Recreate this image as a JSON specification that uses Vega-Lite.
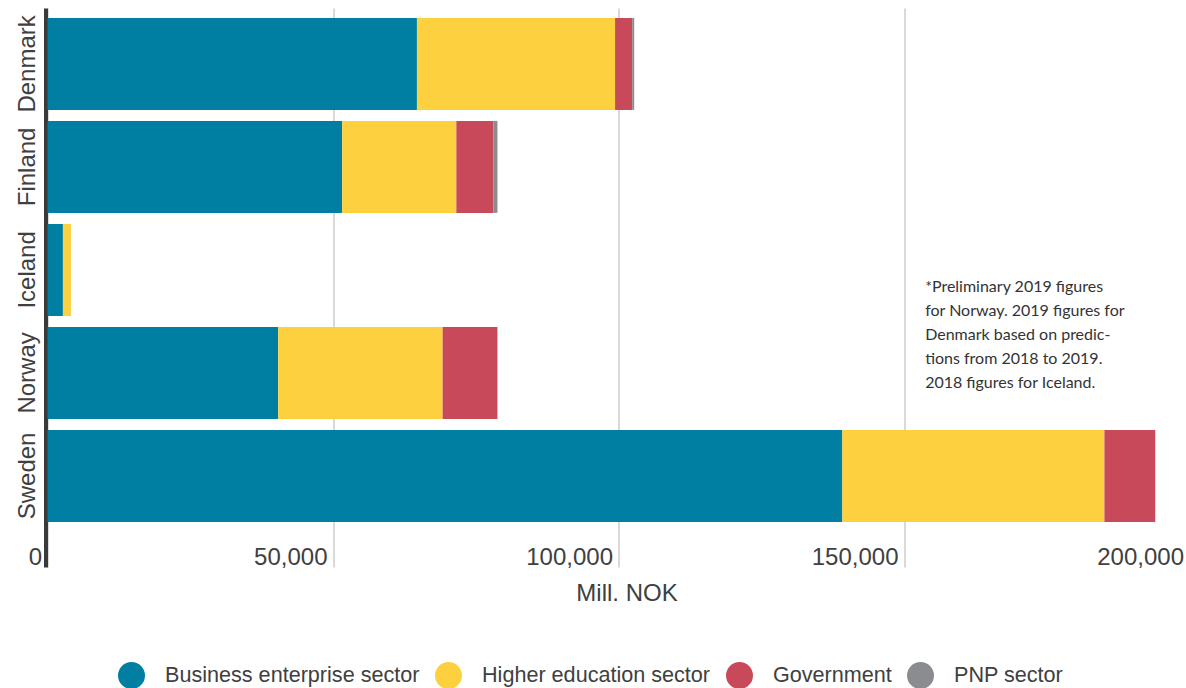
{
  "$schema": "https://vega.github.io/schema/vega-lite/v6.json",
  "autosize": "none",
  "padding": {"left": 47.5, "top": 8, "right": 0, "bottom": 121},
  "width": 1142,
  "height": 559,
  "config": {
    "view": {"stroke": null},
    "font": "Liberation Sans",
    "axis": {"labelFont": "Liberation Sans", "titleFont": "Liberation Sans"},
    "legend": {"labelFont": "Liberation Sans"}
  },
  "datasets": {
    "rd": [
      {"country": "Denmark", "sector": "Business enterprise sector", "ord": 1, "value": 64700},
      {"country": "Denmark", "sector": "Higher education sector", "ord": 2, "value": 34700},
      {"country": "Denmark", "sector": "Government", "ord": 3, "value": 3000},
      {"country": "Denmark", "sector": "PNP sector", "ord": 4, "value": 350},
      {"country": "Finland", "sector": "Business enterprise sector", "ord": 1, "value": 51600},
      {"country": "Finland", "sector": "Higher education sector", "ord": 2, "value": 20000},
      {"country": "Finland", "sector": "Government", "ord": 3, "value": 6500},
      {"country": "Finland", "sector": "PNP sector", "ord": 4, "value": 700},
      {"country": "Iceland", "sector": "Business enterprise sector", "ord": 1, "value": 2700},
      {"country": "Iceland", "sector": "Higher education sector", "ord": 2, "value": 1400},
      {"country": "Norway", "sector": "Business enterprise sector", "ord": 1, "value": 40400},
      {"country": "Norway", "sector": "Higher education sector", "ord": 2, "value": 28800},
      {"country": "Norway", "sector": "Government", "ord": 3, "value": 9600},
      {"country": "Sweden", "sector": "Business enterprise sector", "ord": 1, "value": 139200},
      {"country": "Sweden", "sector": "Higher education sector", "ord": 2, "value": 45900},
      {"country": "Sweden", "sector": "Government", "ord": 3, "value": 8900}
    ],
    "note": [
      {"x": 153700, "country": "Iceland", "text": "*Preliminary 2019 figures\nfor Norway. 2019 figures for\nDenmark based on predic-\ntions from 2018 to 2019.\n2018 figures for Iceland."}
    ]
  },
  "layer": [
    {
      "data": {"name": "rd"},
      "mark": {"type": "bar"},
      "encoding": {
        "y": {
          "field": "country",
          "type": "nominal",
          "sort": ["Denmark", "Finland", "Iceland", "Norway", "Sweden"],
          "scale": {"paddingInner": 0.107, "paddingOuter": 0.267, "align": 0.18},
          "axis": {
            "title": null,
            "labelAngle": -90,
            "labelFontSize": 24,
            "labelColor": "#404040",
            "labelPadding": 6,
            "ticks": false,
            "domainColor": "#3a3a3a",
            "domainWidth": 4,
            "offset": 2,
            "grid": false
          }
        },
        "x": {
          "field": "value",
          "type": "quantitative",
          "stack": "zero",
          "scale": {"domain": [0, 200000], "nice": false},
          "axis": {
            "title": "Mill. NOK",
            "titleFontSize": 24,
            "titleFontWeight": "normal",
            "titleColor": "#404040",
            "titlePadding": 12,
            "titleX": 579,
            "values": [0, 50000, 100000, 150000, 200000],
            "format": ",d",
            "labelFontSize": 24,
            "labelColor": "#404040",
            "labelAlign": "right",
            "labelOffset": -6,
            "labelPadding": -22,
            "ticks": false,
            "domain": false,
            "grid": true,
            "gridColor": "#d9d9d9",
            "gridWidth": 2
          }
        },
        "color": {
          "field": "sector",
          "type": "nominal",
          "scale": {
            "domain": ["Business enterprise sector", "Higher education sector", "Government", "PNP sector"],
            "range": ["#007FA3", "#FDD03F", "#C84A5A", "#8A8C90"]
          },
          "legend": {
            "orient": "none",
            "legendX": 70.5,
            "legendY": 654,
            "direction": "horizontal",
            "title": null,
            "symbolType": "circle",
            "symbolSize": 729,
            "symbolStrokeWidth": 0,
            "symbolOpacity": 1,
            "labelFontSize": 21.6,
            "labelLimit": 400,
            "labelColor": "#404040",
            "labelOffset": 20,
            "columnPadding": 15
          }
        },
        "order": {"field": "ord", "type": "quantitative"}
      }
    },
    {
      "data": {"name": "note"},
      "mark": {
        "type": "text",
        "align": "left",
        "baseline": "top",
        "lineBreak": "\n",
        "font": "Lato",
        "fontSize": 16,
        "lineHeight": 24,
        "color": "#333333",
        "dy": 9
      },
      "encoding": {
        "x": {"field": "x", "type": "quantitative"},
        "y": {"field": "country", "type": "nominal", "sort": ["Denmark", "Finland", "Iceland", "Norway", "Sweden"]},
        "text": {"field": "text"}
      }
    }
  ]
}
